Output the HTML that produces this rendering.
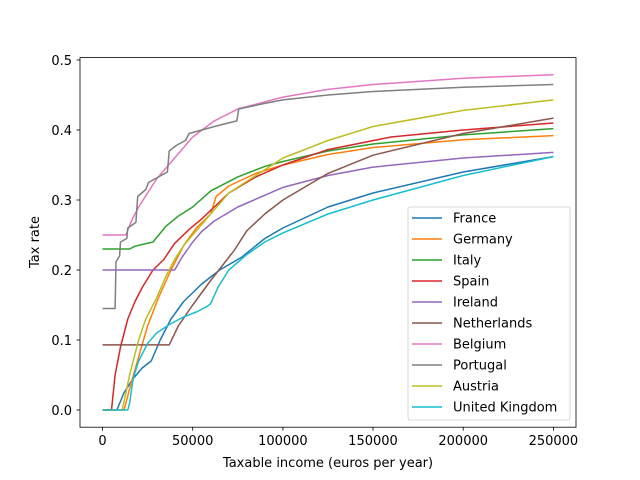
<!DOCTYPE html>
<html><head><meta charset="utf-8"><style>
body{margin:0;background:#fff}
svg{display:block;font-family:"DejaVu Sans","Liberation Sans",sans-serif}
</style></head><body>
<svg id="s" width="640" height="480" viewBox="0 0 640 480" xmlns="http://www.w3.org/2000/svg">
<rect width="640" height="480" fill="#fff"/>
<g id="plot"></g>
<rect x="80" y="57.6" width="496" height="369.6" fill="none" stroke="#000" stroke-width="0.8"/>
<g stroke="#000" stroke-width="0.8">
<line x1="102.5" y1="427.2" x2="102.5" y2="430.7"/><line x1="192.7" y1="427.2" x2="192.7" y2="430.7"/><line x1="282.9" y1="427.2" x2="282.9" y2="430.7"/><line x1="373.0" y1="427.2" x2="373.0" y2="430.7"/><line x1="463.2" y1="427.2" x2="463.2" y2="430.7"/><line x1="553.4" y1="427.2" x2="553.4" y2="430.7"/>
<line x1="76.5" y1="410" x2="80" y2="410"/><line x1="76.5" y1="340" x2="80" y2="340"/><line x1="76.5" y1="270" x2="80" y2="270"/><line x1="76.5" y1="200" x2="80" y2="200"/><line x1="76.5" y1="130" x2="80" y2="130"/><line x1="76.5" y1="60" x2="80" y2="60"/>
</g>
<g font-size="13" fill="#000" text-anchor="middle">
<text x="102.5" y="445">0</text><text x="192.7" y="445">50000</text><text x="282.9" y="445">100000</text><text x="373" y="445">150000</text><text x="463.2" y="445">200000</text><text x="553.4" y="445">250000</text>
<text x="328" y="467">Taxable income (euros per year)</text>
</g>
<g font-size="13" fill="#000" text-anchor="end">
<text x="72" y="415">0.0</text><text x="72" y="345">0.1</text><text x="72" y="275">0.2</text><text x="72" y="205">0.3</text><text x="72" y="135">0.4</text><text x="72" y="65">0.5</text>
</g>
<text x="39" y="242" font-size="13" text-anchor="middle" transform="rotate(-90 39 242)">Tax rate</text>
<rect x="408" y="207" width="162" height="213" rx="2" fill="#fff" fill-opacity="0.8" stroke="#ccc" stroke-width="0.8"/>
<g id="leg" font-size="13"></g>
</svg>
<script>
var S=[
["France","#1f77b4",[[0,0],[8000,0],[12000,0.025],[17000,0.045],[22000,0.06],[27000,0.07],[32000,0.1],[38000,0.13],[45000,0.155],[55000,0.18],[65000,0.2],[77000,0.218],[90000,0.245],[100000,0.26],[125000,0.29],[150000,0.31],[200000,0.34],[250000,0.362]]],
["Germany","#ff7f0e",[[0,0],[12000,0],[16000,0.04],[25000,0.12],[31000,0.16],[38000,0.2],[45000,0.235],[52000,0.26],[60000,0.28],[63000,0.305],[70000,0.32],[85000,0.338],[100000,0.35],[125000,0.365],[150000,0.375],[200000,0.386],[250000,0.392]]],
["Italy","#2ca02c",[[0,0.23],[15000,0.23],[18000,0.234],[28000,0.24],[35000,0.262],[42000,0.277],[50000,0.29],[60000,0.313],[75000,0.333],[90000,0.348],[100000,0.355],[125000,0.37],[150000,0.38],[200000,0.393],[250000,0.402]]],
["Spain","#d62728",[[0,0],[5000,0],[7000,0.05],[10000,0.09],[14000,0.13],[18000,0.155],[22000,0.175],[28000,0.2],[34000,0.215],[40000,0.238],[48000,0.258],[55000,0.273],[62000,0.29],[70000,0.31],[85000,0.333],[100000,0.35],[125000,0.372],[160000,0.39],[200000,0.4],[250000,0.41]]],
["Ireland","#9467bd",[[0,0.2],[40000,0.2],[44000,0.218],[50000,0.24],[55000,0.255],[62000,0.27],[75000,0.29],[100000,0.318],[125000,0.335],[150000,0.347],[200000,0.36],[250000,0.368]]],
["Netherlands","#8c564b",[[0,0.093],[37000,0.093],[42000,0.12],[50000,0.15],[60000,0.185],[73000,0.228],[80000,0.256],[90000,0.28],[100000,0.3],[125000,0.338],[150000,0.364],[200000,0.395],[250000,0.417]]],
["Belgium","#e377c2",[[0,0.25],[13000,0.25],[16000,0.27],[20000,0.29],[25000,0.31],[30000,0.33],[35000,0.345],[40000,0.36],[45000,0.375],[50000,0.39],[62000,0.413],[75000,0.43],[100000,0.447],[125000,0.458],[150000,0.465],[200000,0.474],[250000,0.479]]],
["Portugal","#7f7f7f",[[0,0.145],[7000,0.145],[7500,0.212],[8500,0.216],[9500,0.22],[10000,0.24],[13500,0.245],[14000,0.26],[18500,0.268],[19500,0.305],[24000,0.315],[25500,0.325],[36000,0.34],[37000,0.37],[41000,0.378],[46000,0.385],[48000,0.395],[55000,0.4],[65000,0.407],[74500,0.413],[75500,0.43],[90000,0.438],[100000,0.443],[125000,0.45],[150000,0.455],[200000,0.461],[250000,0.465]]],
["Austria","#bcbd22",[[0,0],[11000,0],[15000,0.05],[20000,0.1],[24000,0.13],[30000,0.16],[35000,0.19],[40000,0.215],[45000,0.235],[50000,0.25],[60000,0.28],[70000,0.31],[82000,0.33],[100000,0.36],[125000,0.385],[150000,0.405],[200000,0.428],[250000,0.443]]],
["United Kingdom","#17becf",[[0,0],[14000,0],[15000,0.01],[17000,0.045],[20000,0.07],[25000,0.095],[30000,0.11],[37000,0.122],[45000,0.133],[52000,0.14],[58000,0.148],[60000,0.152],[64000,0.175],[70000,0.2],[80000,0.222],[90000,0.24],[100000,0.253],[125000,0.28],[150000,0.3],[200000,0.335],[250000,0.362]]]
];
var ns="http://www.w3.org/2000/svg",g=document.getElementById("plot"),L=document.getElementById("leg");
function px(x){return 102.5+x*0.0018036}function py(r){return 410-700*r}
S.forEach(function(s,i){
var p=document.createElementNS(ns,"polyline");
p.setAttribute("points",s[2].map(function(d){return px(d[0]).toFixed(1)+","+py(d[1]).toFixed(1)}).join(" "));
p.setAttribute("fill","none");p.setAttribute("stroke",s[1]);p.setAttribute("stroke-width","1.5");p.setAttribute("stroke-linejoin","round");
g.appendChild(p);
var y=218+21*i;
var l=document.createElementNS(ns,"line");
l.setAttribute("x1",412);l.setAttribute("x2",442);l.setAttribute("y1",y);l.setAttribute("y2",y);l.setAttribute("stroke",s[1]);l.setAttribute("stroke-width","1.5");
L.appendChild(l);
var t=document.createElementNS(ns,"text");t.setAttribute("x",453);t.setAttribute("y",y+4.5);t.textContent=s[0];L.appendChild(t);
});
</script>
</body></html>
